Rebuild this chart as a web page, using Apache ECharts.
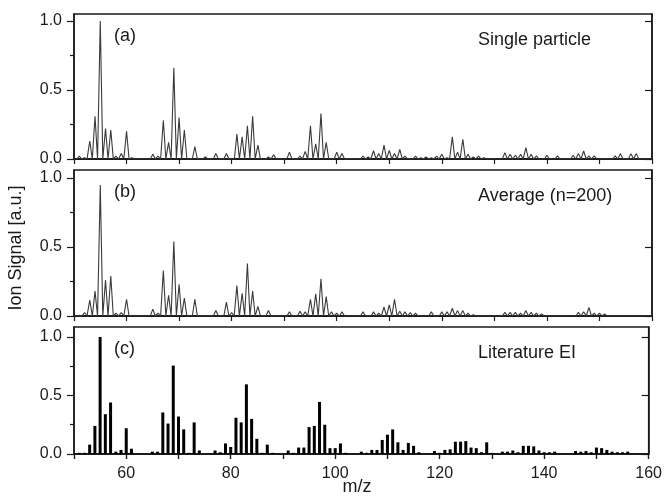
<!DOCTYPE html>
<html>
<head>
<meta charset="utf-8">
<script src="https://cdn.jsdelivr.net/npm/echarts@6/dist/echarts.min.js"></script>
<style>
    html, body { margin: 0; padding: 0; background: #fff; }
    #chart { width: 665px; height: 504px; }
</style>
</head>
<body>
<div id="chart"></div>
<script>
// (a) single particle spectrum: peak m/z and height
const massA = [51, 52, 53, 54, 55, 56, 57, 58, 59, 60, 61, 65, 66, 67, 68, 69, 70, 71, 73, 75, 77, 79,
    81, 82, 83, 84, 85, 87, 88, 91, 93, 94, 95, 96, 97, 98, 100, 101, 105, 106, 107, 108, 109, 110,
    111, 112, 113, 115, 116, 117, 118, 119, 120, 121, 122, 123, 124, 125, 126, 127, 128, 132, 133,
    134, 135, 136, 137, 138, 140, 142, 145, 146, 147, 148, 149, 153, 154, 156, 157];
const signalA = [0.02, 0.01, 0.13, 0.31, 1.0, 0.22, 0.21, 0.02, 0.04, 0.2, 0.01, 0.035, 0.02, 0.28, 0.12,
    0.66, 0.3, 0.21, 0.09, 0.015, 0.04, 0.04, 0.18, 0.16, 0.24, 0.31, 0.1, 0.015, 0.03, 0.05, 0.02,
    0.055, 0.24, 0.11, 0.33, 0.12, 0.05, 0.04, 0.02, 0.015, 0.06, 0.04, 0.1, 0.063, 0.04, 0.07, 0.02,
    0.02, 0.01, 0.015, 0.01, 0.02, 0.035, 0.01, 0.16, 0.05, 0.143, 0.035, 0.015, 0.02, 0.01, 0.046,
    0.034, 0.027, 0.034, 0.083, 0.034, 0.022, 0.027, 0.022, 0.027, 0.039, 0.058, 0.022, 0.022, 0.022,
    0.039, 0.039, 0.039];

// (b) average of 200 particles
const massB = [51, 52, 53, 54, 55, 56, 57, 58, 59, 60, 65, 66, 67, 68, 69, 70, 71, 73, 77, 79, 80, 81,
    82, 83, 84, 85, 87, 91, 93, 94, 95, 96, 97, 98, 99, 100, 101, 105, 107, 108, 109, 110, 111, 112,
    113, 114, 115, 118, 120, 121, 122, 123, 124, 125, 126, 132, 133, 134, 135, 136, 137, 138, 139,
    146, 147, 148, 149, 150, 151];
const signalB = [0.005, 0.025, 0.115, 0.18, 0.95, 0.26, 0.29, 0.02, 0.025, 0.12, 0.05, 0.02, 0.33, 0.15,
    0.54, 0.23, 0.13, 0.12, 0.04, 0.1, 0.025, 0.22, 0.165, 0.38, 0.18, 0.07, 0.04, 0.03, 0.035, 0.03,
    0.12, 0.16, 0.27, 0.14, 0.03, 0.02, 0.03, 0.03, 0.03, 0.02, 0.065, 0.08, 0.12, 0.035, 0.03, 0.025,
    0.02, 0.03, 0.03, 0.03, 0.056, 0.039, 0.039, 0.02, 0.01, 0.026, 0.026, 0.026, 0.02, 0.039, 0.026,
    0.02, 0.015, 0.026, 0.031, 0.063, 0.02, 0.02, 0.015];

// (c) literature EI spectrum (stick)
const massC = [51, 52, 53, 54, 55, 56, 57, 58, 59, 60, 61, 65, 66, 67, 68, 69, 70, 71, 72, 73, 74, 77,
    78, 79, 80, 81, 82, 83, 84, 85, 86, 87, 88, 91, 92, 93, 94, 95, 96, 97, 98, 99, 100, 101, 102, 105,
    106, 107, 108, 109, 110, 111, 112, 113, 114, 115, 116, 119, 120, 121, 122, 123, 124, 125, 126, 127,
    128, 129, 130, 132, 133, 134, 135, 136, 137, 138, 139, 140, 141, 142, 146, 147, 148, 149, 150, 151,
    152, 153, 154, 155, 156];
const signalC = [0.01, 0.01, 0.08, 0.24, 1.0, 0.34, 0.44, 0.02, 0.035, 0.22, 0.045, 0.02, 0.02, 0.355,
    0.26, 0.755, 0.32, 0.21, 0.01, 0.27, 0.03, 0.03, 0.015, 0.09, 0.06, 0.31, 0.27, 0.595, 0.3, 0.13,
    0.01, 0.08, 0.01, 0.03, 0.01, 0.055, 0.055, 0.23, 0.24, 0.445, 0.25, 0.05, 0.05, 0.09, 0.01, 0.02,
    0.01, 0.035, 0.035, 0.12, 0.165, 0.21, 0.1, 0.035, 0.095, 0.07, 0.015, 0.025, 0.01, 0.035, 0.04,
    0.105, 0.105, 0.11, 0.055, 0.05, 0.015, 0.1, 0.01, 0.02, 0.02, 0.03, 0.015, 0.07, 0.07, 0.065,
    0.03, 0.015, 0.015, 0.02, 0.025, 0.02, 0.025, 0.015, 0.055, 0.05, 0.035, 0.02, 0.015, 0.015, 0.02];

const xTicks = [50, 60, 70, 80, 90, 100, 110, 120, 130, 140, 150, 160];
const xLabels = [60, 80, 100, 120, 140, 160];
const yLabels = [0, 0.5, 1.0];
const yMinor = [0.25, 0.75];

const panelNames = ['(a)', '(b)', '(c)'];
const panelTitles = ['Single particle', 'Average (n=200)', 'Literature EI'];

const FONT = '"Liberation Sans", Arial, Helvetica, sans-serif';
const INK = '#1a1a1a';

// panel boxes in px: top, height, y max
const panels = [
    { top: 14, height: 145, yMax: 1.05 },
    { top: 170, height: 146, yMax: 1.058 },
    { top: 327, height: 127, yMax: 1.085 }
];

// peak list -> line points (baseline between peaks)
function spectrumLine(masses, signals) {
    let pts = [[50, 0]];
    masses.forEach((m, i) => {
        pts.push([m - 0.48, 0], [m, signals[i]], [m + 0.48, 0]);
    });
    pts.push([160, 0]);
    return pts;
}

let grids = [];
let xAxes = [];
let yAxes = [];
panels.forEach((p, i) => {
    grids.push({ left: 74, width: 578, top: p.top, height: p.height, show: true,
        borderColor: INK, borderWidth: 1.5, backgroundColor: 'transparent' });
    let isLast = i === panels.length - 1;
    // bottom axis
    xAxes.push({
        type: 'value', gridIndex: i, min: 50, max: 160, interval: 10, position: 'bottom',
        axisLine: { show: true, lineStyle: { color: INK, width: 1.5 } },
        axisTick: { show: isLast, inside: false, length: 5, lineStyle: { color: INK, width: 1.2 } },
        axisLabel: {
            show: isLast, margin: 12, fontSize: 16, color: INK, fontFamily: FONT,
            customValues: xLabels
        },
        splitLine: { show: false }
    });
    // top axis, ticks inward
    xAxes.push({
        type: 'value', gridIndex: i, min: 50, max: 160, interval: 10, position: 'top',
        axisLine: { show: true, lineStyle: { color: INK, width: 1.5 } },
        axisTick: { show: true, inside: true, length: 5, lineStyle: { color: INK, width: 1.2 },
            customValues: xTicks },
        axisLabel: { show: false },
        splitLine: { show: false }
    });
    // left axis, major ticks
    yAxes.push({
        type: 'value', gridIndex: i, min: 0, max: p.yMax, position: 'left',
        axisLine: { show: true, lineStyle: { color: INK, width: 1.5 } },
        axisTick: { show: true, inside: false, length: 7, lineStyle: { color: INK, width: 1.2 },
            customValues: yLabels },
        axisLabel: {
            show: true, margin: 12, fontSize: 16, color: INK, fontFamily: FONT,
            customValues: yLabels, formatter: v => v.toFixed(1)
        },
        splitLine: { show: false }
    });
    // left axis, minor ticks
    yAxes.push({
        type: 'value', gridIndex: i, min: 0, max: p.yMax, position: 'left',
        axisLine: { show: false },
        axisTick: { show: true, inside: false, length: 4, lineStyle: { color: INK, width: 1.2 },
            customValues: yMinor },
        axisLabel: { show: false },
        splitLine: { show: false }
    });
    // right axis, ticks inward
    yAxes.push({
        type: 'value', gridIndex: i, min: 0, max: p.yMax, position: 'right',
        axisLine: { show: true, lineStyle: { color: INK, width: 1.5 } },
        axisTick: { show: true, inside: true, length: 7, lineStyle: { color: INK, width: 1.2 },
            customValues: yLabels },
        axisLabel: { show: false },
        splitLine: { show: false }
    });
});

let series = [
    {
        type: 'line', xAxisIndex: 0, yAxisIndex: 0, data: spectrumLine(massA, signalA),
        showSymbol: false, symbol: 'none', lineStyle: { color: '#3a3a3a', width: 1.1 }, silent: true
    },
    {
        type: 'line', xAxisIndex: 2, yAxisIndex: 3, data: spectrumLine(massB, signalB),
        showSymbol: false, symbol: 'none', lineStyle: { color: '#3a3a3a', width: 1.1 }, silent: true
    },
    {
        type: 'bar', xAxisIndex: 4, yAxisIndex: 6, data: massC.map((m, i) => [m, signalC[i]]),
        barWidth: 3, itemStyle: { color: '#000' }, silent: true
    }
];

let graphic = [];
panels.forEach((p, i) => {
    graphic.push({
        type: 'text', left: 114, top: p.top + 13,
        style: { text: panelNames[i], font: '18px ' + FONT, fill: INK }
    });
    graphic.push({
        type: 'text', left: 478, top: p.top + 17,
        style: { text: panelTitles[i], font: '18px ' + FONT, fill: INK }
    });
});
// axis titles
graphic.push({
    type: 'text', x: 357, y: 487,
    style: { text: 'm/z', font: '18px ' + FONT, fill: INK, align: 'center', verticalAlign: 'middle' }
});
graphic.push({
    type: 'text', x: 16, y: 248, rotation: Math.PI / 2,
    style: { text: 'Ion Signal [a.u.]', font: '18px ' + FONT, fill: INK, align: 'center', verticalAlign: 'middle' }
});

const chart = echarts.init(document.getElementById('chart'), null, { renderer: 'canvas' });
chart.setOption({
    animation: false,
    backgroundColor: '#fff',
    grid: grids,
    xAxis: xAxes,
    yAxis: yAxes,
    series: series,
    graphic: graphic
});
</script>
</body>
</html>
